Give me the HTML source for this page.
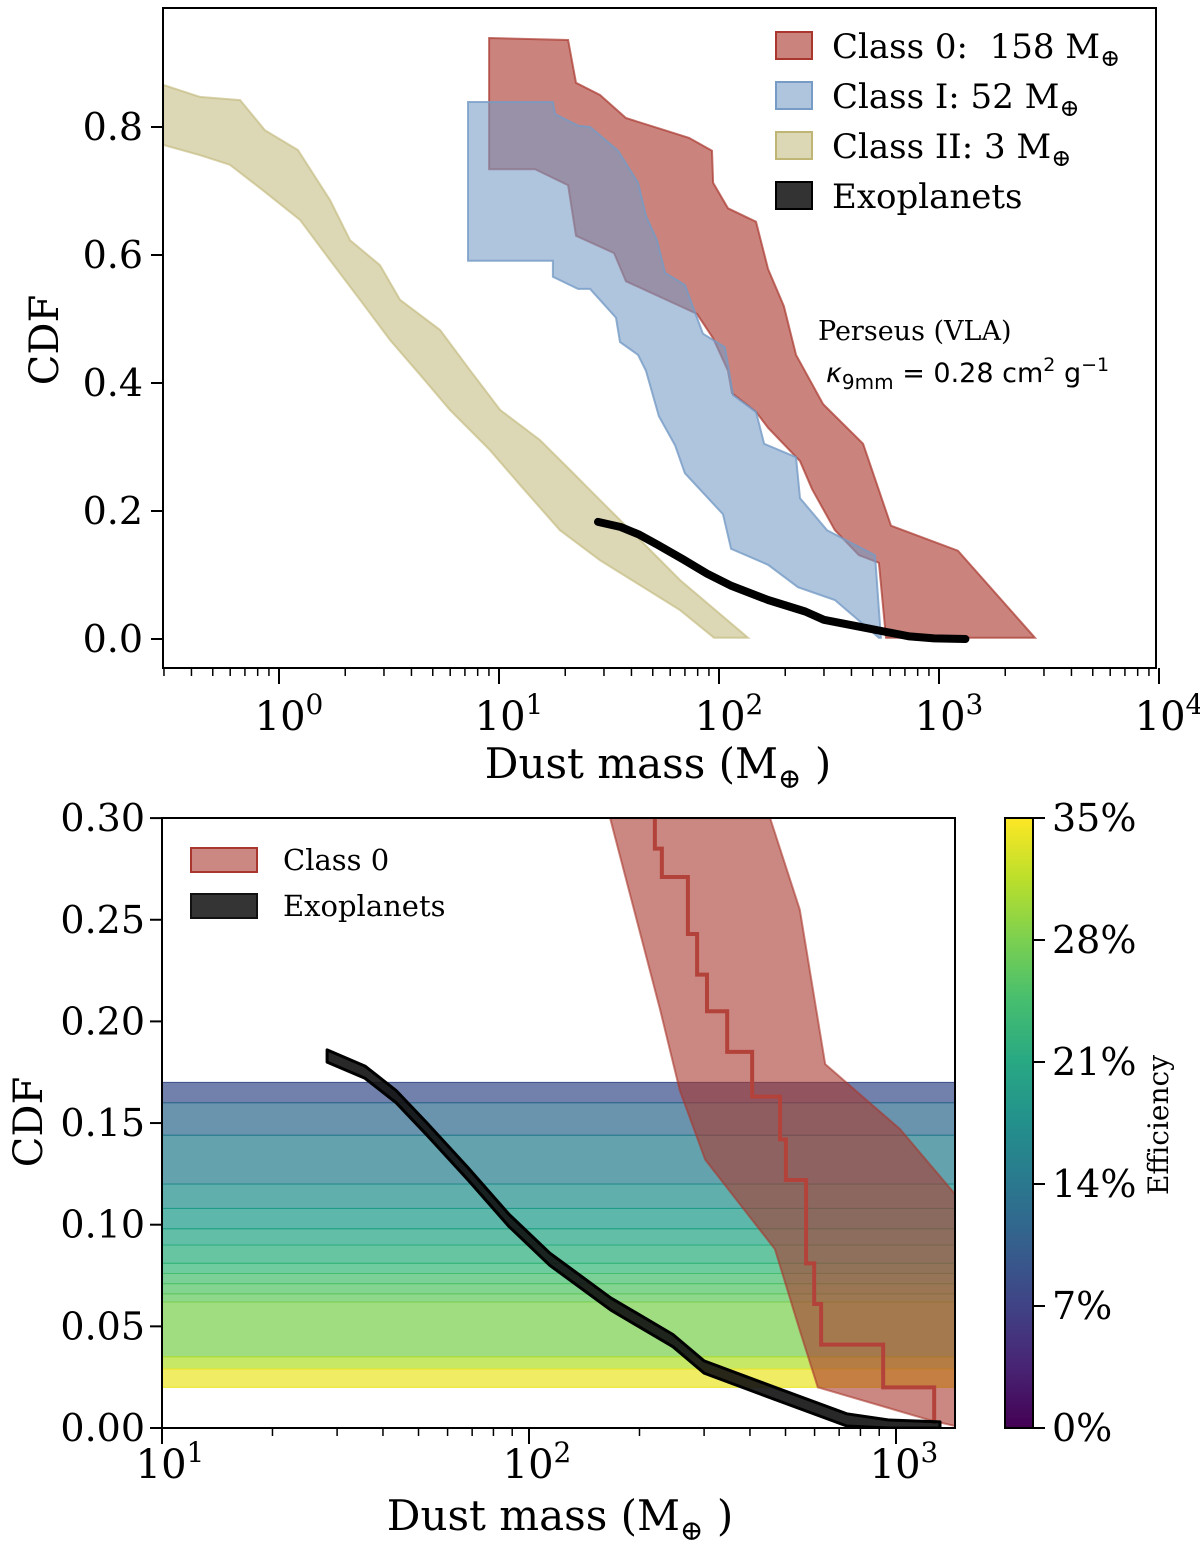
<!DOCTYPE html>
<html><head><meta charset="utf-8"><style>
body{margin:0;background:#fff}
svg{display:block;font-family:"DejaVu Serif","Liberation Serif",serif}
</style></head><body>
<svg id="fig" width="1200" height="1546" viewBox="0 0 1200 1546" xmlns="http://www.w3.org/2000/svg"></svg>
<script>
// ---- Top panel data (log10 mass, CDF) ----
const c0UpperX=[0.955,1.314,1.350,1.459,1.577,1.864,1.968,1.973,2.041,2.168,2.223,2.295,2.350,2.473,2.655,2.782,3.086,3.436];
const c0UpperY=[0.939,0.936,0.869,0.850,0.814,0.783,0.763,0.713,0.673,0.652,0.578,0.520,0.444,0.367,0.305,0.177,0.138,0.002];
const c0LowerX=[2.759,2.727,2.636,2.527,2.423,2.368,2.223,2.168,2.059,2.041,1.973,1.900,1.577,1.523,1.350,1.314,1.164,0.955];
const c0LowerY=[0.002,0.119,0.131,0.170,0.234,0.278,0.330,0.355,0.384,0.419,0.470,0.508,0.559,0.603,0.630,0.709,0.734,0.734];
const c1UpperX=[0.859,1.245,1.255,1.359,1.414,1.541,1.632,1.668,1.718,1.755,1.845,1.927,2.027,2.064,2.168,2.205,2.350,2.368,2.491,2.709,2.736];
const c1UpperY=[0.839,0.839,0.820,0.802,0.800,0.763,0.713,0.661,0.623,0.572,0.553,0.477,0.456,0.381,0.355,0.305,0.284,0.220,0.170,0.131,0.002];
const c1LowerX=[2.727,2.527,2.359,2.223,2.055,2.018,1.845,1.800,1.727,1.668,1.632,1.550,1.532,1.414,1.359,1.245,1.245,0.859];
const c1LowerY=[0.002,0.061,0.081,0.116,0.141,0.195,0.259,0.303,0.348,0.419,0.444,0.464,0.502,0.547,0.547,0.566,0.591,0.591];
const c2UpperX=[-0.527,-0.359,-0.177,-0.064,0.086,0.232,0.323,0.459,0.550,0.732,0.868,1.005,1.186,1.323,1.459,1.641,1.823,2.132];
const c2UpperY=[0.866,0.847,0.842,0.795,0.764,0.686,0.623,0.584,0.530,0.483,0.420,0.358,0.311,0.264,0.217,0.155,0.092,0.002];
const c2LowerX=[1.977,1.823,1.641,1.459,1.277,1.095,0.959,0.777,0.641,0.505,0.368,0.232,0.095,-0.077,-0.223,-0.359,-0.527];
const c2LowerY=[0.002,0.045,0.084,0.123,0.170,0.241,0.295,0.358,0.413,0.467,0.530,0.592,0.655,0.702,0.741,0.756,0.772];
const exoX=[1.450,1.553,1.638,1.722,1.834,1.946,2.057,2.223,2.392,2.477,2.670,2.866,2.978,3.120];
const exoY=[0.183,0.175,0.163,0.147,0.125,0.102,0.083,0.061,0.043,0.030,0.017,0.004,0.001,0.000];
// ---- Bottom panel data ----
const b0LeftX=[2.221,2.357,2.411,2.480,2.670,2.738,2.787,3.090,3.161];
const b0LeftY=[0.300,0.206,0.166,0.132,0.088,0.048,0.020,0.004,0.001];
const b0RightX=[2.657,2.738,2.807,3.011,3.161];
const b0RightY=[0.300,0.255,0.179,0.147,0.115];
const stepX=[2.343,2.362,2.433,2.458,2.485,2.540,2.608,2.684,2.700,2.755,2.777,2.796,2.965,3.104];
const stepY=[0.285,0.271,0.243,0.223,0.205,0.185,0.163,0.142,0.122,0.081,0.061,0.041,0.020,0.002];
const bandEdges=[0.170,0.160,0.144,0.120,0.108,0.098,0.090,0.081,0.076,0.071,0.066,0.062,0.035,0.029,0.020];
const bandEff=[8.5,12,15,17.5,19,20.5,22,23.5,24.5,25.5,26.5,28,31,34];
const cbTicks=[0,7,14,21,28,35];

const NS="http://www.w3.org/2000/svg";
const svg=document.getElementById('fig');
function mk(tag,attrs,parent){const e=document.createElementNS(NS,tag);for(const k in attrs)e.setAttribute(k,attrs[k]);(parent||svg).appendChild(e);return e;}
const tX=v=>279+220*v, tY=v=>639-640*v;
const bX=v=>162+367*(v-1), bY=v=>1428-2033*v;
function pts(xs,ys,fx,fy){return xs.map((x,i)=>fx(x).toFixed(1)+','+fy(ys[i]).toFixed(1));}
function viridis(t){const c=[[68,1,84],[72,40,120],[62,74,137],[49,104,142],[38,130,142],[31,158,137],[53,183,121],[109,205,89],[180,222,44],[253,231,37]];
 t=Math.max(0,Math.min(1,t))*9;const i=Math.min(8,Math.floor(t)),f=t-i;return 'rgb('+c[i].map((v,k)=>Math.round(v+(c[i+1][k]-v)*f)).join(',')+')';}

// ===== TOP PANEL =====
const clipT=mk('clipPath',{id:'clipT'});mk('rect',{x:163,y:8,width:993,height:660},clipT);
const gT=mk('g',{'clip-path':'url(#clipT)'});

let p;
p=mk('polygon',{points:pts(c2UpperX.concat(c2LowerX),c2UpperY.concat(c2LowerY),tX,tY).join(' '),fill:'#bfb676','fill-opacity':0.55,stroke:'#bfb676','stroke-opacity':0.6,'stroke-width':2},gT);

p=mk('polygon',{points:pts(c0UpperX.concat(c0LowerX),c0UpperY.concat(c0LowerY),tX,tY).join(' '),fill:'#a9372d','fill-opacity':0.62,stroke:'#a9372d','stroke-opacity':0.7,'stroke-width':2},gT);

p=mk('polygon',{points:pts(c1UpperX.concat(c1LowerX),c1UpperY.concat(c1LowerY),tX,tY).join(' '),fill:'#769bc6','fill-opacity':0.58,stroke:'#769bc6','stroke-opacity':0.8,'stroke-width':2},gT);

p=mk('polyline',{points:pts(exoX,exoY,tX,tY).join(' '),fill:'none',stroke:'#000','stroke-width':8,'stroke-linecap':'round','stroke-linejoin':'round'},gT);

p=mk('rect',{x:163,y:8,width:993,height:660,fill:'none',stroke:'#000','stroke-width':2});

for(let d=-1;d<=4;d++){for(let k=1;k<10;k++){const v=d+Math.log10(k);const x=tX(v);if(x<162||x>1159)continue;
 p=mk('line',{x1:x,x2:x,y1:668,y2:k==1?684:676,stroke:'#000','stroke-width':k==1?2:1.5});}
 if(d>=0){const t=mk('text',{x:tX(d)+10,y:730,'font-size':40,'text-anchor':'middle'});t.innerHTML='10<tspan dy="-16" font-size="28">'+d+'</tspan>';}}
[0,0.2,0.4,0.6,0.8].forEach(v=>{const y=tY(v);p=mk('line',{x1:151,x2:163,y1:y,y2:y,stroke:'#000','stroke-width':2});
 const t=mk('text',{x:143,y:y+13,'font-size':38,'text-anchor':'end'});t.textContent=v.toFixed(1);});
p=mk('text',{x:0,y:0,'font-size':40,'text-anchor':'middle',transform:'translate(58,340) rotate(-90)'});p.textContent='CDF';
p=mk('text',{x:658,y:778,'font-size':42,'text-anchor':'middle'});p.innerHTML='Dust mass (M<tspan font-size="28" dy="10">⊕</tspan><tspan dy="-10"> )</tspan>';
const leg=[['#a9372d',0.62,'Class 0:\u00a0 158 M','legend-class-0'],['#769bc6',0.58,'Class I: 52 M','legend-class-i'],['#bfb676',0.55,'Class II: 3 M','legend-class-ii'],['#000',0.8,'Exoplanets','legend-exoplanets']];
leg.forEach((l,i)=>{const y=46+i*50;const g=mk('g',{});
 mk('rect',{x:776,y:y-14,width:36,height:27,fill:l[0],'fill-opacity':l[1],stroke:l[0],'stroke-width':2},g);
 const t=mk('text',{x:832,y:y+12,'font-size':34},g);t.innerHTML=l[2]+(i<3?'<tspan font-size="24" dy="8">⊕</tspan>':'');});
p=mk('text',{x:818,y:340,'font-size':27});p.textContent='Perseus (VLA)';
p=mk('text',{x:826,y:382,'font-size':27,'font-family':'DejaVu Sans,Liberation Sans,sans-serif'});p.innerHTML='<tspan font-style="italic">κ</tspan><tspan font-size="20" dy="7">9mm</tspan><tspan dy="-7"> = 0.28 cm</tspan><tspan font-size="19" dy="-11">2</tspan><tspan dy="11"> g</tspan><tspan font-size="19" dy="-11">−1</tspan>';

// ===== BOTTOM PANEL =====
const clipB=mk('clipPath',{id:'clipB'});mk('rect',{x:162,y:818,width:793,height:610},clipB);
const gB=mk('g',{'clip-path':'url(#clipB)'});
for(let i=0;i<bandEff.length;i++){const y1=bY(bandEdges[i]),y2=bY(bandEdges[i+1]);const col=viridis(bandEff[i]/35);
 p=mk('rect',{x:162,y:y1,width:793,height:y2-y1,fill:col,'fill-opacity':0.72,stroke:col,'stroke-width':1},gB);}
p=mk('polygon',{points:pts(b0LeftX.concat(b0RightX.slice().reverse()),b0LeftY.concat(b0RightY.slice().reverse()),bX,bY).join(' '),fill:'#a9372d','fill-opacity':0.6,stroke:'#a9372d','stroke-opacity':0.6,'stroke-width':2},gB);

let sp=[[bX(stepX[0]),bY(0.31)]];for(let i=0;i<stepX.length;i++){sp.push([bX(stepX[i]),bY(stepY[i])]);if(i+1<stepX.length)sp.push([bX(stepX[i+1]),bY(stepY[i])]);}
p=mk('polyline',{points:sp.map(a=>a.join(',')).join(' '),fill:'none',stroke:'#b3433a','stroke-width':4},gB);
p=mk('polygon',{points:pts(exoX.concat(exoX.slice().reverse()),exoY.map(v=>v+0.003).concat(exoY.slice().reverse().map(v=>Math.max(0,v-0.003))),bX,bY).join(' '),fill:'#111','fill-opacity':0.9,stroke:'#000','stroke-width':3,'stroke-linejoin':'round'},gB);

p=mk('rect',{x:162,y:818,width:793,height:610,fill:'none',stroke:'#000','stroke-width':2});
for(let d=1;d<=3;d++){for(let k=1;k<10;k++){const v=d+Math.log10(k);const x=bX(v);if(x>956)continue;
 p=mk('line',{x1:x,x2:x,y1:1428,y2:k==1?1444:1436,stroke:'#000','stroke-width':k==1?2:1.5});}
 const t=mk('text',{x:bX(d)+8,y:1478,'font-size':40,'text-anchor':'middle'});t.innerHTML='10<tspan dy="-16" font-size="28">'+d+'</tspan>';}
[0,0.05,0.1,0.15,0.2,0.25,0.3].forEach(v=>{const y=bY(v);p=mk('line',{x1:150,x2:162,y1:y,y2:y,stroke:'#000','stroke-width':2});
 const t=mk('text',{x:145,y:y+13,'font-size':38,'text-anchor':'end'});t.textContent=v.toFixed(2);});
p=mk('text',{x:0,y:0,'font-size':40,'text-anchor':'middle',transform:'translate(42,1122) rotate(-90)'});p.textContent='CDF';
p=mk('text',{x:560,y:1530,'font-size':42,'text-anchor':'middle'});p.innerHTML='Dust mass (M<tspan font-size="28" dy="10">⊕</tspan><tspan dy="-10"> )</tspan>';
[['#a9372d',0.6,'Class 0','legend-class-0-bottom'],['#111',0.85,'Exoplanets','legend-exoplanets-bottom']].forEach((l,i)=>{const y=860+i*46;const g=mk('g',{});
 mk('rect',{x:191,y:y-12,width:66,height:24,fill:l[0],'fill-opacity':l[1],stroke:l[0],'stroke-width':2},g);
 const t=mk('text',{x:283,y:y+10,'font-size':29},g);t.textContent=l[2];});
const defs=mk('defs',{});const lg=mk('linearGradient',{id:'vir',x1:0,y1:1,x2:0,y2:0},defs);
for(let i=0;i<=10;i++)mk('stop',{offset:i/10,'stop-color':viridis(i/10)},lg);
p=mk('rect',{x:1005,y:818,width:28,height:610,fill:'url(#vir)',stroke:'#000','stroke-width':2});
cbTicks.forEach(v=>{const y=1428-610*v/35;p=mk('line',{x1:1033,x2:1045,y1:y,y2:y,stroke:'#000','stroke-width':2});
 const t=mk('text',{x:1052,y:y+13,'font-size':38});t.textContent=v+'%';});
p=mk('text',{x:0,y:0,'font-size':28,'text-anchor':'middle',transform:'translate(1168,1125) rotate(-90)'});p.textContent='Efficiency';
</script>
</body></html>
